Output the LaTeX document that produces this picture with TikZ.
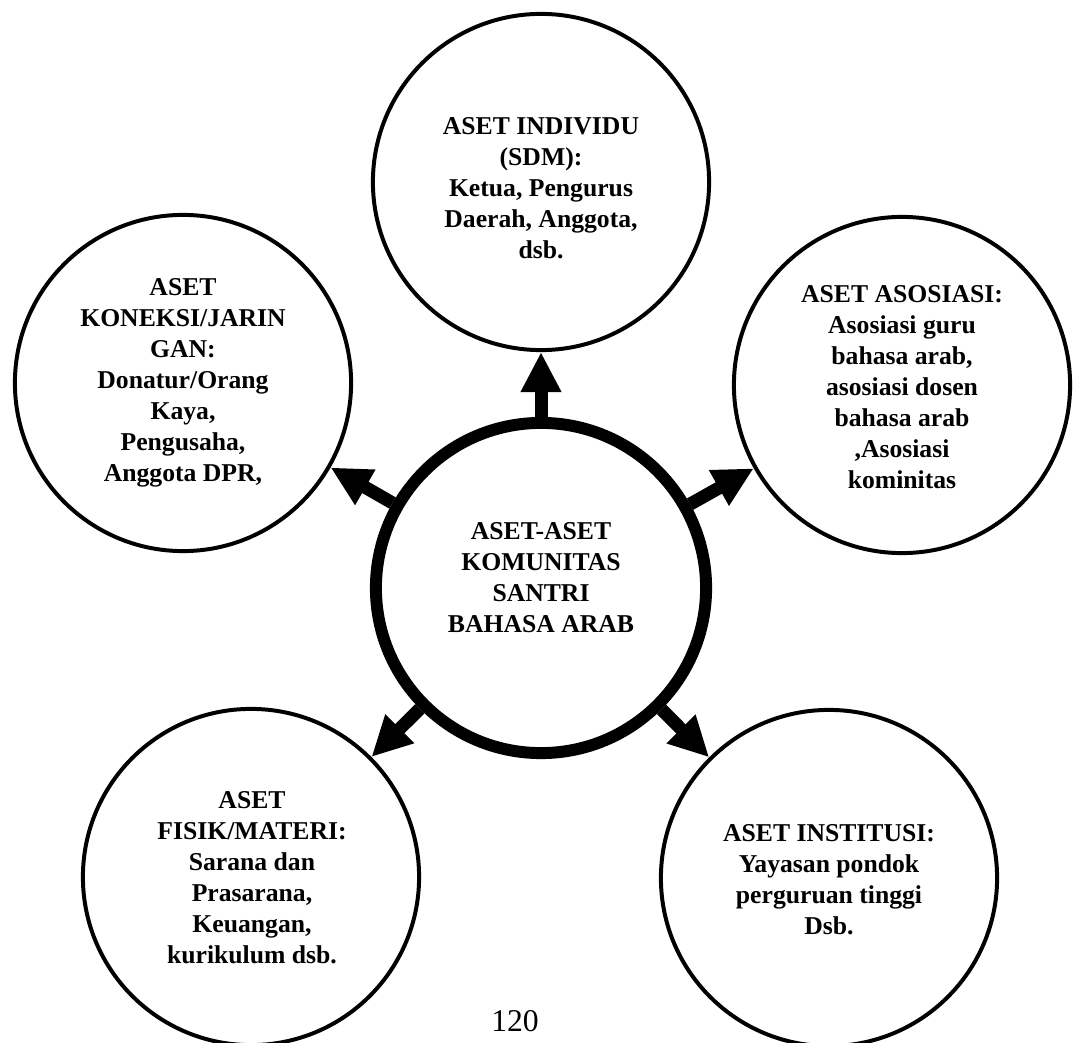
\documentclass[tikz,border=0pt]{standalone}
\usepackage{fontspec}
\setmainfont{Liberation Serif}
\usetikzlibrary{arrows.meta}
\begin{document}
\begin{tikzpicture}[x=0.01cm,y=-0.01cm,
 asset/.style={circle,draw,line width=1.13pt,minimum size=3.36cm,inner sep=0pt},
 hub/.style={circle,draw,line width=3.4pt,minimum size=3.30cm,inner sep=0pt},
 txt/.style={align=center,font=\bfseries\fontsize{7.3}{8.8}\selectfont,inner sep=0pt},
 arr/.style={line width=3.7pt,-{Triangle[length=0.40cm,width=0.38cm]}}]
\clip (0,0) rectangle (1073,1043);
\useasboundingbox (0,0) rectangle (1073,1043);
\node[hub] (C) at (541,588) {};
\node[asset] (T) at (541,182) {};
\node[asset] (L) at (183,383) {};
\node[asset] (R) at (902,385) {};
\node[asset] (BL) at (251,877) {};
\node[asset] (BR) at (829,878) {};
\node[txt] (Ct) at (541,578) {ASET-ASET\\KOMUNITAS\\SANTRI\\BAHASA ARAB};
\node[txt] (Tt) at (541,188) {ASET INDIVIDU\\(SDM):\\Ketua, Pengurus\\Daerah, Anggota,\\dsb.};
\node[txt] (Lt) at (183,383) {ASET\\KONEKSI/JARIN\\GAN:\\Donatur/Orang\\Kaya,\\Pengusaha,\\Anggota DPR,};
\node[txt] (Rt) at (902,387) {ASET ASOSIASI:\\Asosiasi guru\\bahasa arab,\\asosiasi dosen\\bahasa arab\\,Asosiasi\\kominitas};
\node[txt] (BLt) at (252,878) {ASET\\FISIK/MATERI:\\Sarana dan\\Prasarana,\\Keuangan,\\kurikulum dsb.};
\node[txt] (BRt) at (829,880) {ASET INSTITUSI:\\Yayasan pondok\\perguruan tinggi\\Dsb.};
\node[font=\fontsize{9}{10}\selectfont,inner sep=0pt] (pg) at (515,1021) {120};
\draw[arr] (C) -- (T);
\draw[arr] (C) -- (L);
\draw[arr] (C) -- (R);
\draw[arr] (C) -- (BL);
\draw[arr] (C) -- (BR);
\end{tikzpicture}
\end{document}
